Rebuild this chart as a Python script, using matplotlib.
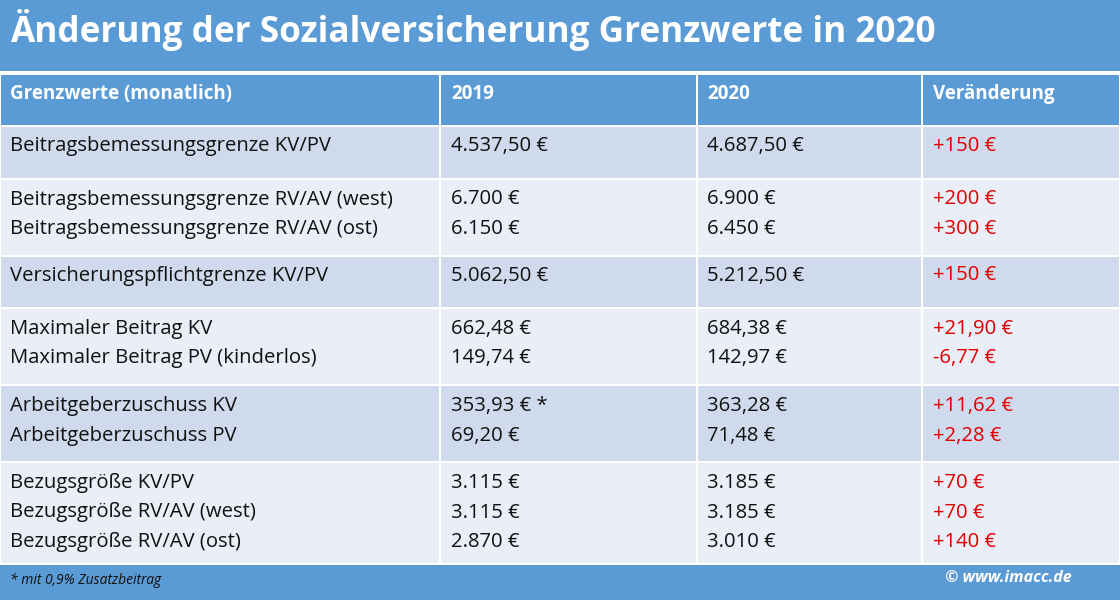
import matplotlib.pyplot as plt
from matplotlib.patches import Rectangle

TITLE = "Änderung der Sozialversicherung Grenzwerte in 2020"
HEADERS = ["Grenzwerte (monatlich)", "2019", "2020", "Veränderung"]
GROUP_SIZES = [1, 2, 1, 2, 2, 3]
LABELS = [
    "Beitragsbemessungsgrenze KV/PV",
    "Beitragsbemessungsgrenze RV/AV (west)",
    "Beitragsbemessungsgrenze RV/AV (ost)",
    "Versicherungspflichtgrenze KV/PV",
    "Maximaler Beitrag KV",
    "Maximaler Beitrag PV (kinderlos)",
    "Arbeitgeberzuschuss KV",
    "Arbeitgeberzuschuss PV",
    "Bezugsgröße KV/PV",
    "Bezugsgröße RV/AV (west)",
    "Bezugsgröße RV/AV (ost)",
]
VALUES_2019 = ["4.537,50 €", "6.700 €", "6.150 €", "5.062,50 €", "662,48 €", "149,74 €",
               "353,93 € *", "69,20 €", "3.115 €", "3.115 €", "2.870 €"]
VALUES_2020 = ["4.687,50 €", "6.900 €", "6.450 €", "5.212,50 €", "684,38 €", "142,97 €",
               "363,28 €", "71,48 €", "3.185 €", "3.185 €", "3.010 €"]
CHANGES = ["+150 €", "+200 €", "+300 €", "+150 €", "+21,90 €", "-6,77 €",
           "+11,62 €", "+2,28 €", "+70 €", "+70 €", "+140 €"]
FOOTNOTE = "* mit 0,9% Zusatzbeitrag"
CREDIT = "© www.imacc.de"

BLUE = "#5B9BD5"
DARK = "#CFDAEC"
LIGHT = "#E9EEF7"
RED = "#E00000"
FONT = "Open Sans"

W, H = 1120, 600
fig = plt.figure(figsize=(W / 100, H / 100), dpi=100)
ax = fig.add_axes([0, 0, 1, 1])
ax.set_xlim(0, W)
ax.set_ylim(H, 0)
ax.axis("off")

col_x = [10, 451, 707, 933]
col_edges = [0, 440, 697, 922, W]

# title bar
ax.add_patch(Rectangle((0, 0), W, 71, color=BLUE, lw=0))
ax.text(10, 30, TITLE, color="white", fontsize=25.3, fontweight="bold",
        family=FONT, va="center")

# header row
for i in range(4):
    ax.add_patch(Rectangle((col_edges[i] + 1, 75), col_edges[i + 1] - col_edges[i] - 2, 50,
                           color=BLUE, lw=0))
    ax.text(col_x[i], 94, HEADERS[i], color="white", fontsize=13.5, fontweight="bold",
            family=FONT, va="center")

# body groups
line_h = 29.5
top = 127
row = 0
for g, n in enumerate(GROUP_SIZES):
    h = 26 + 24.5 * n
    color = DARK if g % 2 == 0 else LIGHT
    for i in range(4):
        ax.add_patch(Rectangle((col_edges[i] + 1, top), col_edges[i + 1] - col_edges[i] - 2,
                               h, color=color, lw=0))
    off = 20 if n > 1 else 19
    for k in range(n):
        y = top + off + k * line_h
        ax.text(col_x[0], y, LABELS[row], fontsize=14.6, family=FONT, va="center", color="#111111")
        ax.text(col_x[1], y, VALUES_2019[row], fontsize=14.6, family=FONT, va="center", color="#111111")
        ax.text(col_x[2], y, VALUES_2020[row], fontsize=14.6, family=FONT, va="center", color="#111111")
        ax.text(col_x[3], y, CHANGES[row], fontsize=14.6, family=FONT, va="center", color=RED)
        row += 1
    top += h + 2

# footer bar
ax.add_patch(Rectangle((0, top), W, H - top, color=BLUE, lw=0))
ax.text(10, (top + H) / 2 - 2, FOOTNOTE, fontsize=10, family=FONT, style="italic",
        va="center", color="#111111")
ax.text(1072, (top + H) / 2 - 4, CREDIT, fontsize=11.5, family=FONT, style="italic",
        fontweight="bold", va="center", ha="right", color="white")

fig.savefig("out.png", dpi=100)
